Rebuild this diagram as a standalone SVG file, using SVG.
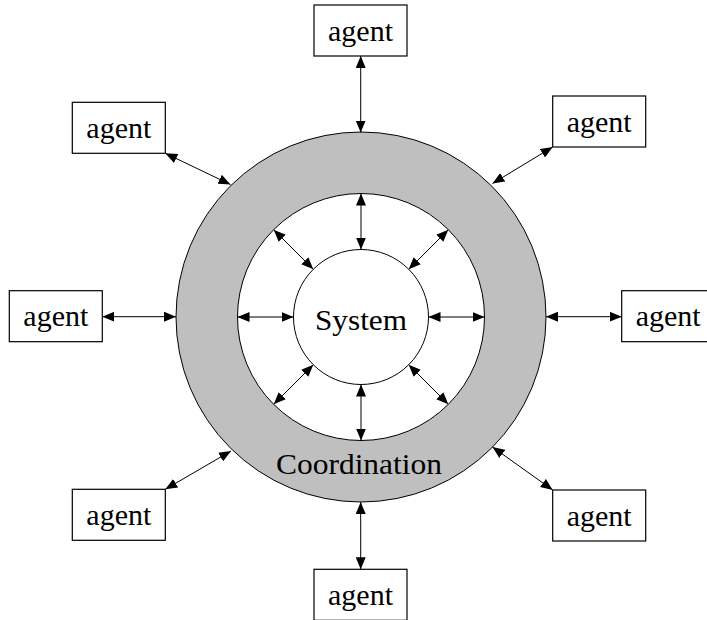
<svg xmlns="http://www.w3.org/2000/svg" width="707" height="620" viewBox="0 0 707 620">
<style>
.box{fill:#fff;stroke:#000;stroke-width:1.2}
.lbl{font-family:"Liberation Serif","DejaVu Serif",serif;font-size:30px;fill:#000;text-anchor:middle}
.arr{stroke:#000;stroke-width:1;fill:none;marker-start:url(#ah);marker-end:url(#ah)}
</style>
<defs>
<marker id="ah" markerUnits="userSpaceOnUse" markerWidth="12" markerHeight="10" refX="12" refY="5" orient="auto-start-reverse">
<path d="M0,0 L12,5 L0,10 z" fill="#000"/>
</marker>
</defs>
<rect width="707" height="620" fill="#fff"/>
<g id="coordination">
<circle cx="361" cy="317" r="185" fill="#bfbfbf" stroke="#000" stroke-width="1"/>
<circle cx="361" cy="317" r="123.5" fill="#fff" stroke="#000" stroke-width="1"/>
<text class="lbl" x="359" y="474" textLength="166" lengthAdjust="spacingAndGlyphs">Coordination</text>
</g>
<g id="system">
<circle cx="361" cy="317" r="67.5" fill="#fff" stroke="#000" stroke-width="1"/>
<text class="lbl" x="361" y="330" textLength="92" lengthAdjust="spacingAndGlyphs">System</text>
</g>
<g id="agent-top"><rect class="box" x="314" y="5" width="93" height="51"/><text class="lbl" x="360.5" y="40.5">agent</text></g>
<g id="agent-topleft"><rect class="box" x="72.3" y="102.3" width="93" height="51"/><text class="lbl" x="118.8" y="137.8">agent</text></g>
<g id="agent-topright"><rect class="box" x="552.7" y="96" width="93" height="51"/><text class="lbl" x="599.2" y="131.5">agent</text></g>
<g id="agent-left"><rect class="box" x="9.3" y="290.7" width="93" height="51"/><text class="lbl" x="55.8" y="326">agent</text></g>
<g id="agent-right"><rect class="box" x="621.7" y="290.7" width="93" height="51"/><text class="lbl" x="668.2" y="326">agent</text></g>
<g id="agent-bottomleft"><rect class="box" x="72.3" y="489.3" width="93" height="51"/><text class="lbl" x="118.8" y="524.8">agent</text></g>
<g id="agent-bottomright"><rect class="box" x="552.7" y="490" width="93" height="51"/><text class="lbl" x="599.2" y="525.5">agent</text></g>
<g id="agent-bottom"><rect class="box" x="314" y="569.3" width="93" height="51"/><text class="lbl" x="360.5" y="604.8">agent</text></g>
<g id="connectors">
<line class="arr" x1="360.7" y1="56" x2="360.7" y2="132.5"/>
<line class="arr" x1="165.3" y1="153.3" x2="230.5" y2="184.5"/>
<line class="arr" x1="552.7" y1="147" x2="492.5" y2="183.5"/>
<line class="arr" x1="102.3" y1="316.7" x2="176" y2="316.7"/>
<line class="arr" x1="546" y1="316.7" x2="621.7" y2="316.7"/>
<line class="arr" x1="165.3" y1="489.3" x2="231" y2="451"/>
<line class="arr" x1="552.7" y1="490" x2="492.5" y2="447"/>
<line class="arr" x1="360.7" y1="502" x2="360.7" y2="569.3"/>
<line class="arr" x1="361" y1="249.5" x2="361" y2="193.5"/>
<line class="arr" x1="361" y1="384.5" x2="361" y2="440.5"/>
<line class="arr" x1="293.5" y1="317" x2="237.5" y2="317"/>
<line class="arr" x1="428.5" y1="317" x2="484.5" y2="317"/>
<line class="arr" x1="313.3" y1="269.3" x2="273.7" y2="229.7"/>
<line class="arr" x1="408.7" y1="269.3" x2="448.3" y2="229.7"/>
<line class="arr" x1="313.3" y1="364.7" x2="273.7" y2="404.3"/>
<line class="arr" x1="408.7" y1="364.7" x2="448.3" y2="404.3"/>
</g>
</svg>
